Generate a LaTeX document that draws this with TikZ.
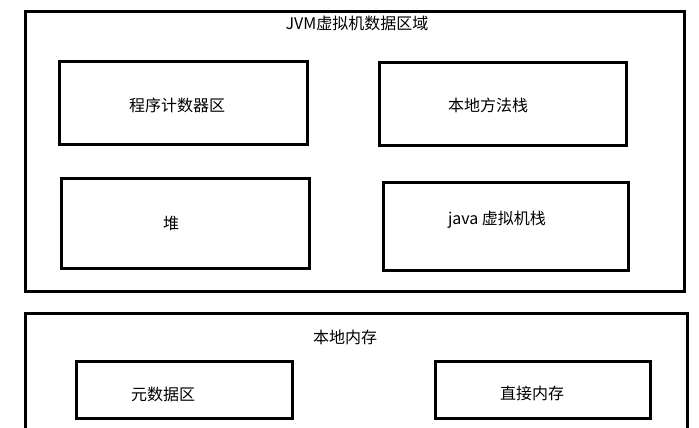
\documentclass[tikz,border=0pt]{standalone}
\usepackage{fontspec}
\setmainfont{Noto Sans CJK SC}
\begin{document}
\begin{tikzpicture}[x=1pt,y=-1pt,
  box/.style={draw=black,line width=3pt},
  lbl/.style={font=\fontsize{16}{18}\selectfont,inner sep=0pt,anchor=center}]
\useasboundingbox (0,0) rectangle (699,428);
\clip (0,0) rectangle (699,428);
\fill[white] (0,0) rectangle (699,428);
% JVM area
\draw[box] (25,12) rectangle (684,291);
\node[lbl] (jvm) at (357,23) {JVM虚拟机数据区域};
\draw[box] (59,62) rectangle (307,144);
\node[lbl] (pc) at (177,105) {程序计数器区};
\draw[box] (379,63) rectangle (626,145);
\node[lbl] (nms) at (488,105) {本地方法栈};
\draw[box] (61,178) rectangle (309,268);
\node[lbl] (heap) at (171,223) {堆};
\draw[box] (383,182) rectangle (628,270);
\node[lbl] (jvms) at (497,220) {java 虚拟机栈};
% native memory
\draw[box] (25,313) rectangle (687,440);
\node[lbl] (nm) at (345,337) {本地内存};
\draw[box] (76,361) rectangle (292,418);
\node[lbl] (meta) at (163,394) {元数据区};
\draw[box] (435,361) rectangle (650,418);
\node[lbl] (dm) at (532,393) {直接内存};
\end{tikzpicture}
\end{document}
